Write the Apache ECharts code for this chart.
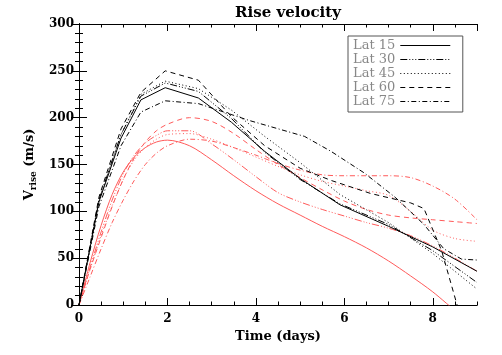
<!DOCTYPE html>
<html>
<head>
<meta charset="utf-8">
<script src="https://cdn.jsdelivr.net/npm/echarts@6/dist/echarts.min.js"></script>
<style>
  html, body { margin: 0; padding: 0; background: #ffffff; }
  #chart { width: 502px; height: 355px; }
</style>
</head>
<body>
<div id="chart"></div>
<script>
  // model curves (black)
  var tBlk = [0, 0.45, 0.95, 1.4, 1.95, 2.7, 3.45, 4.2, 5.0, 5.9, 7.0, 8.0, 9.0];
  var blk15 = [0, 110, 178, 219, 232, 221, 195, 164, 135, 107, 84, 62, 36];
  var blk30 = [0, 112, 182, 223, 237, 228, 199, 163, 134, 108, 86, 58, 24];
  var blk45 = [0, 112, 182, 225, 239, 231, 208, 180, 152, 118, 88, 55, 17];
  var tBlk60 = [0, 0.45, 0.95, 1.4, 1.95, 2.7, 3.45, 4.2, 5.0, 5.7, 6.6, 7.5, 7.8, 8.2, 8.55];
  var blk60 = [0, 115, 188, 227, 250, 240, 201, 170, 146, 133, 119, 109, 103, 58, 0];
  var tBlk75 = [0, 0.45, 0.95, 1.4, 1.95, 2.7, 3.85, 5.1, 5.7, 6.45, 7.15, 7.8, 8.25, 8.65, 9.0];
  var blk75 = [0, 105, 170, 206, 218, 215, 197, 180, 164, 141, 115, 86, 60, 49, 48];

  // red curves
  var tRed = [0, 0.25, 0.5, 0.75, 1, 1.25, 1.5, 1.75, 2, 2.5, 3, 3.5, 4, 4.5, 5, 5.5, 6, 6.5, 7, 7.5, 8, 8.5, 9];
  var red15 = [0, 45, 85, 118, 142, 158, 168, 174, 176, 170, 155, 138, 122, 108, 96, 84, 73, 61, 47, 31, 14, -6];
  var red30 = [0, 40, 78, 112, 140, 160, 173, 181, 186, 186, 172, 155, 137, 120, 110, 102, 95, 88, 82, 74, 63, 50, 36];
  var red45 = [0, 38, 74, 106, 134, 155, 168, 177, 182, 183, 177, 168, 158, 148, 139, 132, 127, 122, 117, 100, 80, 71, 68];
  var red60 = [0, 38, 72, 105, 134, 157, 174, 186, 193, 200, 196, 183, 166, 150, 136, 123, 111, 102, 96, 93, 91, 89, 87];
  var red75 = [0, 30, 60, 88, 112, 133, 150, 162, 170, 177, 175, 168, 160, 151, 144, 139, 138, 138, 138, 136, 127, 113, 91];

  var legendNames = ['Lat 15', 'Lat 30', 'Lat 45', 'Lat 60', 'Lat 75'];
  var xTicks = [0, 2, 4, 6, 8];

  function pairs(t, v) {
    var out = [];
    for (var i = 0; i < v.length; i++) out.push([t[i], v[i]]);
    return out;
  }

  var dashes = ['solid', [7, 2, 1, 2, 1, 2, 1, 2], [1, 2.5], [5, 4], [5, 2.5, 1, 2.5]];
  var RED = '#ff5a5a';

  function mkLine(name, data, dash, color, smooth) {
    return {
      name: name,
      type: 'line',
      data: data,
      symbol: 'none',
      smooth: smooth,
      lineStyle: { color: color, width: 1, type: dash },
      itemStyle: { color: color },
      z: color === RED ? 2 : 3
    };
  }

  var series = [
    mkLine('r15', pairs(tRed, red15), dashes[0], RED, 0.3),
    mkLine('r30', pairs(tRed, red30), dashes[1], RED, 0.3),
    mkLine('r45', pairs(tRed, red45), dashes[2], RED, 0.3),
    mkLine('r60', pairs(tRed, red60), dashes[3], RED, 0.3),
    mkLine('r75', pairs(tRed, red75), dashes[4], RED, 0.3),
    mkLine('Lat 15', pairs(tBlk, blk15), dashes[0], '#000', false),
    mkLine('Lat 30', pairs(tBlk, blk30), dashes[1], '#000', false),
    mkLine('Lat 45', pairs(tBlk, blk45), dashes[2], '#000', false),
    mkLine('Lat 60', pairs(tBlk60, blk60), dashes[3], '#000', false),
    mkLine('Lat 75', pairs(tBlk75, blk75), dashes[4], '#000', false)
  ];

  var axisFont = { fontFamily: 'DejaVu Serif', fontWeight: 'bold', fontSize: 12, color: '#000' };

  // IDL style box: long ticks + short ticks on every side, all inside
  function xAx(pos, interval, len, labels) {
    return {
      type: 'value', position: pos, min: 0, max: 9, interval: interval,
      axisLine: { show: true, onZero: false, lineStyle: { color: '#000', width: 1 } },
      axisTick: { show: true, inside: true, length: len, lineStyle: { color: '#000' } },
      axisLabel: labels ? Object.assign({ show: true, margin: 8, showMaxLabel: false,
        formatter: function (v) { return xTicks.indexOf(v) >= 0 ? String(v) : ''; } }, axisFont) : { show: false },
      splitLine: { show: false },
      name: labels ? 'Time (days)' : '',
      nameLocation: 'middle',
      nameGap: 25,
      nameTextStyle: { fontFamily: 'DejaVu Serif', fontWeight: 'bold', fontSize: 13, color: '#000' }
    };
  }

  function yAx(pos, interval, len, labels) {
    return {
      type: 'value', position: pos, min: 0, max: 300, interval: interval,
      axisLine: { show: true, lineStyle: { color: '#000', width: 1 } },
      axisTick: { show: true, inside: true, length: len, lineStyle: { color: '#000' } },
      axisLabel: labels ? Object.assign({ show: true, margin: 5 }, axisFont) : { show: false },
      splitLine: { show: false },
      name: labels ? '{v|V}{s|rise}{v| (m/s)}' : '',
      nameLocation: 'middle',
      nameRotate: 90,
      nameGap: 38,
      nameTextStyle: {
        rich: {
          v: { fontFamily: 'DejaVu Serif', fontWeight: 'bold', fontSize: 13, color: '#000', lineHeight: 18 },
          s: { fontFamily: 'DejaVu Serif', fontWeight: 'bold', fontSize: 9, color: '#000', lineHeight: 18, padding: [7, 0, 0, 0] }
        }
      }
    };
  }

  var chart = echarts.init(document.getElementById('chart'));
  chart.setOption({
    backgroundColor: '#ffffff',
    animation: false,
    title: {
      text: 'Rise velocity',
      left: 283, top: 1, textAlign: 'center',
      textStyle: { fontFamily: 'DejaVu Serif', fontWeight: 'bold', fontSize: 15, color: '#000' }
    },
    grid: { left: 79, right: 25, top: 24, bottom: 50, containLabel: false },
    legend: {
      data: legendNames,
      left: 348, top: 36,
      orient: 'vertical',
      align: 'right',
      itemWidth: 50, itemHeight: 12, itemGap: 1,
      padding: [3, 12, 4, 5],
      borderColor: '#555', borderWidth: 1,
      backgroundColor: '#fff',
      itemStyle: { opacity: 0 },
      lineStyle: { width: 1 },
      textStyle: { fontFamily: 'DejaVu Serif', fontSize: 13, color: '#888', width: 49 }
    },
    xAxis: [
      xAx('bottom', 2, 7, true),
      xAx('bottom', 0.5, 3.5, false),
      xAx('top', 2, 7, false),
      xAx('top', 0.5, 3.5, false)
    ],
    yAxis: [
      yAx('left', 50, 8, true),
      yAx('left', 10, 4, false),
      yAx('right', 50, 8, false),
      yAx('right', 10, 4, false)
    ],
    series: series
  });
</script>
</body>
</html>
